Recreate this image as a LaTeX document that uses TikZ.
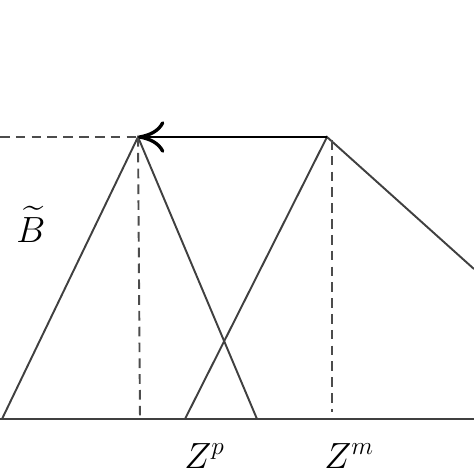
\documentclass[tikz,border=0pt]{standalone}
\usepackage{amsmath}
\usetikzlibrary{arrows.meta}
\begin{document}
\begin{tikzpicture}[x=0.02cm, y=-0.02cm]

\tikzstyle{leg} = [draw=black!75, line width=1.1pt]
\tikzstyle{guide} = [draw=black!70, line width=1.1pt, dash pattern=on 5.5pt off 3.5pt]
\tikzstyle{moveleft} = [draw=black, line width=1.7pt, -{To[length=15pt, width=18pt, line width=1.9pt]}]
\tikzstyle{label} = [font=\fontsize{20}{24}\selectfont, inner sep=0pt]

\useasboundingbox (0,0) rectangle (474,474);

% axis and guide points
\coordinate (o) at (0,419);
\coordinate (e) at (474,419);
\coordinate (h) at (0,137);
\coordinate (fp) at (140,419);
\coordinate (fm) at (332,412);
\coordinate (tm) at (332,140);

% left triangle
\coordinate (bl) at (2,419);
\coordinate (bp) at (138,137);
\coordinate (br) at (257,419);

% right shape
\coordinate (mp) at (327,137);
\coordinate (ml) at (185,419);
\coordinate (mr) at (474,269);

\draw[leg] (o) -- (e);
\draw[leg] (bl) -- (bp) -- (br);
\draw[leg] (ml) -- (mp) -- (mr);

\draw[guide] (h) -- (bp);
\draw[guide] (bp) -- (fp);
\draw[guide] (tm) -- (fm);

\draw[moveleft] (mp) -- (bp);

\node[label, anchor=base west] (btilde) at (16,242) {$\widetilde{B}$};
\node[label, anchor=base west] (zp) at (184,468) {$Z^p$};
\node[label, anchor=base west] (zm) at (324,468) {$Z^m$};

\end{tikzpicture}
\end{document}
